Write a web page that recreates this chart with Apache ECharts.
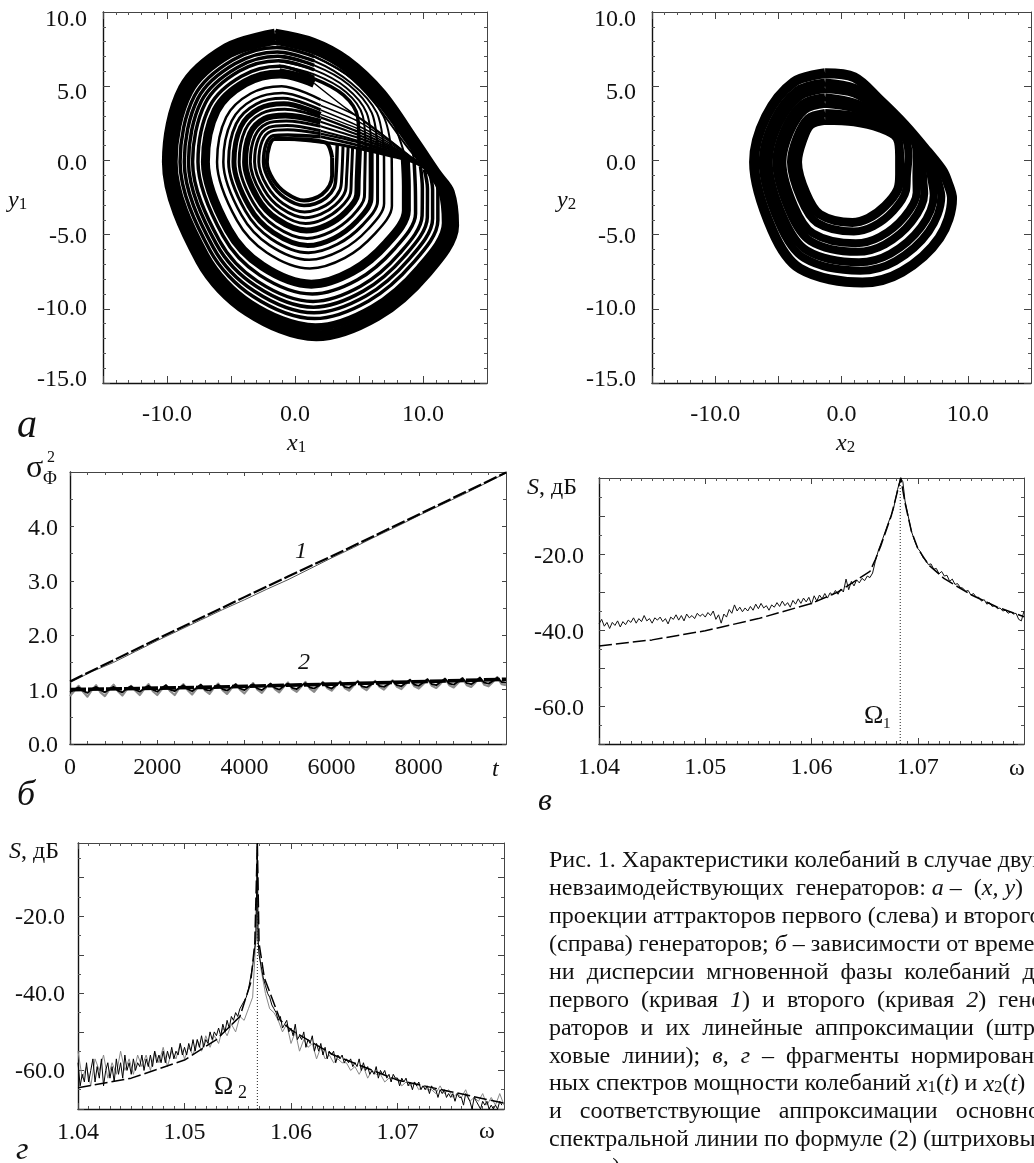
<!DOCTYPE html>
<html><head><meta charset="utf-8">
<script src="https://cdn.jsdelivr.net/npm/echarts@6/dist/echarts.min.js"></script>
<style>html,body{margin:0;padding:0;background:#fff;overflow:hidden}#c{width:1034px;height:1163px}</style>
</head><body><div id="c"></div>
<script>
// ---- panel a, first oscillator: ring paths
const a1Rings = [
[[2.9,.2],[2.9,-1],[2.7,-1.7],[2.1,-2.3],[1.4,-2.6],[.7,-2.7],[-.7,-2.2],[-1.7,-1.3],[-2.2,-.1],[-2,1],[-1.6,1.45],[-.5,1.45],[2.4,1.2],[2.9,.2]],
[[3.3,1.05],[3.2,-1.06],[3.06,-1.84],[2.43,-2.53],[1.57,-2.92],[.7,-3.04],[-.81,-2.52],[-1.9,-1.49],[-2.46,-.1],[-2.26,1.1],[-1.7,1.67],[-.56,1.72],[2,1.6]],
[[3.75,.95],[3.65,-1.11],[3.52,-1.97],[2.82,-2.78],[1.8,-3.29],[.75,-3.48],[-.95,-2.9],[-2.17,-1.75],[-2.83,-.1],[-2.57,1.29],[-1.88,1.96],[-.6,2.06],[2,1.8]],
[[4.15,.9],[4.03,-1.16],[3.93,-2.08],[3.16,-3],[2.02,-3.62],[.79,-3.86],[-1.08,-3.23],[-2.41,-1.98],[-3.16,-.1],[-2.86,1.45],[-2.04,2.22],[-.65,2.36],[2,2]],
[[4.5,.85],[4.4,-1.21],[4.34,-2.19],[3.5,-3.22],[2.23,-3.95],[.83,-4.25],[-1.2,-3.57],[-2.65,-2.22],[-3.49,-.1],[-3.14,1.62],[-2.2,2.48],[-.69,2.65],[2,2.3]],
[[5,.8],[4.9,-1.27],[4.86,-2.33],[3.94,-3.5],[2.49,-4.37],[.89,-4.73],[-1.36,-3.99],[-2.95,-2.51],[-3.9,-.1],[-3.5,1.82],[-2.4,2.8],[-.75,3.03],[2,2.6]],
[[5.5,.8],[5.45,-1.34],[5.42,-2.48],[4.41,-3.8],[2.78,-4.82],[.94,-5.26],[-1.53,-4.45],[-3.28,-2.82],[-4.36,-.1],[-3.89,2.05],[-2.62,3.16],[-.81,3.44],[2,2.9]],
[[5.95,.7],[5.95,-1.4],[5.93,-2.62],[4.84,-4.08],[3.05,-5.24],[1,-5.74],[-1.69,-4.87],[-3.58,-3.11],[-4.77,-.1],[-4.24,2.25],[-2.82,3.48],[-.86,3.81],[2,3.1]],
[[6.45,.6],[6.45,-1.46],[6.45,-2.76],[5.27,-4.36],[3.31,-5.65],[1.05,-6.22],[-1.85,-5.29],[-3.88,-3.4],[-5.19,-.1],[-4.6,2.46],[-3.02,3.8],[-.92,4.18],[2,3.4]],
[[6.95,.6],[6.96,-1.52],[6.96,-2.9],[5.7,-4.64],[3.58,-6.07],[1.1,-6.7],[-2,-5.71],[-4.18,-3.69],[-5.6,-.1],[-4.95,2.66],[-3.22,4.12],[-.97,4.55],[2,3.7]],
[[7.55,.5],[7.57,-1.59],[7.57,-3.07],[6.21,-4.97],[3.9,-6.57],[1.16,-7.28],[-2.19,-6.22],[-4.54,-4.04],[-6.09,-.1],[-5.38,2.91],[-3.46,4.51],[-1.04,5],[2,4.1]],
[[8.6,.3],[8.7,-1.72],[8.7,-3.38],[7.16,-5.58],[4.48,-7.48],[1.28,-8.34],[-2.54,-7.14],[-5.2,-4.68],[-7,-.1],[-6.16,3.36],[-3.9,5.22],[-1.16,5.82],[1.5,5.2]],
[[9.3,0],[9.4,-1.8],[9.42,-3.58],[7.76,-5.97],[4.85,-8.06],[1.35,-9],[-2.76,-7.73],[-5.62,-5.09],[-7.58,-.1],[-6.66,3.65],[-4.18,5.67],[-1.24,6.34],[1.5,5.6]],
[[9.8,-.4],[9.95,-1.86],[9.93,-3.72],[8.19,-6.25],[5.12,-8.48],[1.41,-9.5],[-2.92,-8.15],[-5.92,-5.38],[-8,-.1],[-7.01,3.85],[-4.38,6],[-1.29,6.71],[1.5,6.1]],
[[10.1,-.6],[10.35,-1.91],[10.34,-3.83],[8.54,-6.47],[5.33,-8.81],[1.45,-9.89],[-3.04,-8.48],[-6.16,-5.61],[-8.32,-.1],[-7.3,4.02],[-4.54,6.25],[-1.34,7.01],[1.5,6.4]],
[[10.5,-.8],[10.75,-1.96],[10.75,-3.94],[8.88,-6.69],[5.54,-9.14],[1.49,-10.27],[-3.17,-8.82],[-6.4,-5.84],[-8.65,-.1],[-7.58,4.18],[-4.7,6.51],[-1.38,7.31],[1.5,6.7]],
[[10.9,-1],[11.16,-2.01],[11.16,-4.05],[9.22,-6.91],[5.75,-9.47],[1.53,-10.66],[-3.3,-9.16],[-6.64,-6.07],[-8.98,-.1],[-7.86,4.34],[-4.86,6.77],[-1.42,7.61],[1.5,7]],
[[-1.49,8.06],[1.5,7.4],[4,6.2],[6.5,4.1],[9,1.2],[10.7,-.9],[11.5,-2.08],[11.78,-4.22],[9.74,-7.25],[6.07,-9.97],[1.6,-11.24],[-3.49,-9.66],[-7,-6.42],[-9.48,-.1],[-8.29,4.59],[-5.1,7.16],[-1.49,8.06]],
[[-1.56,8.5],[1.4,7.9],[4,6.7],[6.7,4.5],[9.3,1.3],[11.1,-1],[12.05,-2.15],[12.39,-4.39],[10.26,-7.58],[6.39,-10.47],[1.66,-11.82],[-3.67,-10.16],[-7.36,-6.77],[-9.97,-.1],[-8.72,4.84],[-5.34,7.54],[-1.56,8.5]]
];
const a1Fan = [
[[-.5,1.45],[2.4,1.2],[5,.8],[7.5,.3],[9.5,-.2],[11,-1]],
[[2,1.6],[5,1],[7.5,.4],[9.5,-.1],[10.5,-.6]],
[[2,1.8],[5,1.2],[7.5,.5],[9.5,-.1]],
[[2,2],[5,1.3],[7.5,.6],[9.5,-.1]],
[[2,2.3],[5,1.5],[7.5,.7],[9.5,0]],
[[2,2.6],[5,1.7],[7.5,.8],[9.5,0]],
[[2,2.9],[5,1.9],[7.5,.9],[9.5,-.1]],
[[2,3.1],[5,2.1],[7.5,1],[9.6,-.2]],
[[2,3.4],[5,2.3],[7.5,1.1],[9.7,-.2]],
[[2,3.7],[5,2.6],[7.5,1.2],[9.8,-.3]],
[[2,4.1],[5,2.9],[7.5,1.3],[10,-.4]],
[[1.5,5.2],[4,3.5],[7,1.6],[9.5,-.1]]
];
const a1Fold = [
[[-1.2,6.1],[1.5,5.5],[3.8,4.4],[4.9,2.9],[5,.8]],
[[-1.25,6.4],[1.5,5.8],[4,4.6],[5.3,3],[5.5,.8]],
[[-1.3,6.7],[1.5,6.1],[4,4.9],[5.6,3.2],[5.95,.7]],
[[-1.35,7],[1.5,6.4],[4.2,5.1],[6,3.2],[6.45,.6]],
[[-1.4,7.3],[1.5,6.7],[4.4,5.2],[6.4,3.2],[6.95,.6]],
[[-1.45,7.7],[1.5,7],[4.6,5.4],[6.9,3],[7.55,.5]],
[[-1.55,8.4],[1.5,7.8],[4.5,6.2],[7.3,3.2],[8.6,.3]],
[[-1.6,8.7],[1.4,8.1],[4,6.9],[6.8,4.4],[8.7,2],[9.3,0]],
[[1.5,7],[4,5.8],[6.2,3.9],[8.6,1.1],[10.3,-.7]]
];
// ---- panel a, second oscillator
const a2Rings = [
[[-1.3,2.71],[1,2.6],[3,2.2],[4.4,1.5],[4.6,.3],[4.6,-.94],[4.45,-1.95],[3.45,-3.07],[2.12,-3.9],[.86,-4.18],[-1.7,-3.65],[-2.82,-2.2],[-3.48,-.1],[-3.1,1.3],[-2.46,2.39],[-1.3,2.71]],
[[-1.3,3.19],[1,3],[3,2.5],[5,1.5],[5.3,.3],[5.18,-1.02],[5.1,-2.04],[4.1,-3.4],[2.52,-4.44],[.98,-4.79],[-1.94,-4.2],[-3.22,-2.58],[-4,-.1],[-3.54,1.54],[-2.66,2.82],[-1.3,3.19]],
[[-1.3,3.81],[1,3.5],[3,2.8],[5,1.9],[5.9,.9],[5.95,0],[5.93,-1.12],[5.95,-2.16],[4.95,-3.83],[3.05,-5.15],[1.13,-5.59],[-2.25,-4.92],[-3.75,-3.07],[-4.68,-.1],[-4.1,1.87],[-2.92,3.39],[-1.3,3.81]],
[[-1.3,4.25],[1,3.9],[3,3.1],[5,2],[6.3,.9],[6.4,0],[6.46,-1.19],[6.55,-2.24],[5.55,-4.13],[3.42,-5.66],[1.24,-6.16],[-2.47,-5.43],[-4.12,-3.42],[-5.16,-.1],[-4.5,2.11],[-3.11,3.79],[-1.3,4.25]],
[[-1.3,4.81],[1,4.5],[3,3.4],[4.8,2.1],[6.3,.8],[6.9,-.4],[7.12,-1.28],[7.3,-2.35],[6.3,-4.5],[3.88,-6.29],[1.38,-6.86],[-2.74,-6.07],[-4.58,-3.86],[-5.76,-.1],[-5,2.4],[-3.34,4.29],[-1.3,4.81]],
[[-1.3,5.25],[1,4.9],[3,3.7],[5,2.1],[6.5,.7],[7.4,-.5],[7.64,-1.36],[7.9,-2.43],[6.9,-4.8],[4.26,-6.79],[1.48,-7.43],[-2.96,-6.58],[-4.96,-4.2],[-6.24,-.1],[-5.4,2.63],[-3.53,4.7],[-1.3,5.25]],
[[-1.3,5.87],[1,5.6],[3,4.1],[5,2.4],[6.8,.6],[8,-.7],[8.39,-1.46],[8.75,-2.55],[7.75,-5.23],[4.78,-7.51],[1.64,-8.23],[-3.27,-7.3],[-5.48,-4.7],[-6.92,-.1],[-5.97,2.96],[-3.79,5.27],[-1.3,5.87]]
];
// ---- panel b
const phiLine1 = [[0,1.13],[500,1.33],[1000,1.5],[1500,1.7],[2000,1.9],[2500,2.09],[3000,2.28],[3500,2.47],[4000,2.65],[4500,2.84],[5000,3.02],[5500,3.22],[6000,3.42],[6500,3.61],[7000,3.81],[7500,4],[8000,4.2],[8500,4.39],[9000,4.58],[9500,4.78],[10000,4.98]];
const phiFit1 = [[0,1.15],[2000,1.93],[4000,2.7],[5000,3.08],[6000,3.45],[8000,4.22],[10000,4.99]];
const phiStep = 100;
const phiGray2 = [.88,.98,1.07,.96,.87,.99,1.08,.95,.88,1,1.09,.97,.89,1,1.07,.98,.9,1.01,1.1,.97,.9,1,1.08,.97,.9,1.02,1.1,.99,.91,1.01,1.09,.98,.92,1.03,1.11,.99,.92,1.02,1.1,1,.93,1.03,1.12,1,.94,1.04,1.11,1.01,.95,1.05,1.13,1.01,.96,1.05,1.14,1.02,.96,1.06,1.14,1.03,.98,1.07,1.15,1.03,.98,1.07,1.16,1.04,.99,1.08,1.16,1.05,1,1.09,1.17,1.05,1.01,1.1,1.18,1.06,1.02,1.1,1.19,1.07,1.03,1.11,1.2,1.08,1.04,1.12,1.21,1.08,1.05,1.13,1.22,1.09,1.06,1.14,1.23,1.1,1.08];
const phiBlack2 = [.95,1,1.04,.98,.94,1.01,1.05,.99,.95,1,1.05,.98,.95,1.02,1.06,1,.96,1.02,1.07,1,.96,1.03,1.08,1,.97,1.03,1.08,1.01,.97,1.03,1.09,1,.98,1.04,1.09,1.01,.98,1.04,1.1,1.02,.99,1.05,1.1,1.02,.99,1.05,1.11,1.03,1,1.06,1.11,1.03,1.01,1.07,1.12,1.04,1.02,1.07,1.13,1.05,1.02,1.08,1.14,1.05,1.03,1.09,1.15,1.06,1.04,1.09,1.15,1.07,1.05,1.1,1.16,1.08,1.06,1.12,1.18,1.09,1.07,1.13,1.19,1.1,1.08,1.14,1.2,1.11,1.09,1.15,1.21,1.12,1.1,1.15,1.22,1.13,1.11,1.16,1.22,1.14,1.13];
const phiFit2 = [[0,1],[3000,1.04],[6000,1.1],[10000,1.19]];
// ---- panel v
const specStep = .00025;
const spec1Left = [-38.4,-37.2,-39,-38,-39.6,-38,-38.8,-37.6,-39.2,-37.8,-38.6,-37.4,-38,-36.8,-38.2,-37,-37.8,-36.2,-37.6,-37,-38.2,-36.8,-37.4,-36.6,-37.8,-37,-38.4,-36.6,-37.2,-36,-37.4,-36.2,-37.6,-35.8,-36.8,-36.2,-37,-35.6,-36.4,-35.8,-36.6,-35.4,-36.2,-35,-37.2,-36,-38.2,-35.8,-36.6,-34.6,-35.6,-33.4,-35,-34,-35.2,-34.2,-35,-33.8,-34.8,-33.2,-34.4,-33,-34.2,-33.6,-34.8,-33.4,-34,-32.8,-33.8,-32.4,-33.6,-32.8,-34,-32.2,-33.2,-31.8,-33,-31.6,-32.6,-31.4,-33.2,-31,-32.4,-30.8,-31.8,-30.4,-31.6,-30.2,-30.8,-29.6,-30.6,-29.2,-30,-26.6,-29.4,-27.2,-28.4,-26.8,-27.6,-26.4,-27,-25.8,-26.2,-25];
const spec1Peak = [[1.066,-22],[1.0663,-19],[1.0667,-16],[1.0672,-12],[1.0677,-8.3],[1.0681,-3],[1.0684,0],[1.0686,-1],[1.0688,-6],[1.0691,-10],[1.0694,-14],[1.0697,-16.5]];
const spec1Right = [-18.5,-19.4,-21,-21.6,-22.8,-22.6,-24,-23.8,-25.2,-24.6,-25.8,-25.6,-27.2,-26.6,-28,-27.8,-28.8,-29,-29.8,-29.6,-30.8,-30.4,-31.4,-31.4,-32.4,-32,-33.2,-32.8,-33.8,-33.6,-34.4,-34.2,-35,-34.8,-35.6,-35.2,-35.8,-35.6,-37.2,-37.6,-35];
const fit1 = [[1.04,-44.2],[1.045,-42.6],[1.05,-40.2],[1.055,-37],[1.06,-33],[1.0625,-30],[1.0655,-24.6],[1.066,-21.5],[1.0665,-18],[1.067,-14],[1.0675,-10],[1.068,-4.5],[1.0684,0],[1.0688,-6.5],[1.0694,-14],[1.07,-18.5],[1.071,-22.8],[1.0725,-26.5],[1.075,-30.7],[1.0775,-34],[1.08,-36.5]];
const omega1 = [[1.06835,-70],[1.06835,0]];
// ---- panel g
const specStep2 = .0002;
const spec2BlackLeft = [-58,-64,-61,-63,-58,-63,-60,-57,-63,-59,-62,-57,-64,-60,-58,-62,-59,-63,-57,-61,-58,-62,-56,-60,-58,-61,-57,-60,-58,-59,-56,-60,-57,-59,-56,-59,-55,-58,-56,-58,-55,-58,-55,-57,-54,-57,-55,-56,-53,-56,-54,-56,-53,-55,-52,-55,-52,-54,-51,-54,-52,-53,-50,-52,-50,-51,-49,-51,-48,-50,-47,-49,-46,-47,-45,-46,-44,-43,-42,-41,-39,-36,-33,-28];
const spec2GrayLeft = [-55,-62,-59,-64,-57,-60,-56,-62,-58,-61,-55,-60,-57,-61,-56,-59,-56,-60,-55,-58,-54,-59,-55,-57,-53,-57,-54,-56,-52,-55,-51,-54,-51,-53,-49,-51,-48,-50,-46,-47,-44,-41];
const spec2BlackRight = [-30,-33,-36,-38,-40,-41,-43,-44,-45,-47,-46,-49,-48,-47,-50,-49,-51,-48,-52,-51,-52,-50,-54,-52,-53,-51,-55,-53,-55,-53,-56,-54,-57,-55,-56,-55,-58,-56,-57,-56,-58,-57,-58,-57,-59,-58,-59,-57,-60,-58,-60,-59,-61,-60,-61,-59,-62,-60,-61,-60,-62,-61,-63,-61,-62,-62,-64,-62,-63,-62,-64,-63,-65,-63,-64,-63,-65,-64,-65,-64,-66,-64,-65,-65,-67,-65,-66,-65,-67,-66,-67,-66,-68,-66,-67,-67,-69,-66,-67,-68,-70,-67,-68,-69,-70,-68,-69,-68,-70,-69,-70,-69,-70,-68,-69];
const spec2GrayRight = [-34,-40,-44,-45,-47,-50,-48,-53,-50,-55,-52,-54,-53,-57,-54,-57,-56,-58,-57,-58,-58,-60,-59,-61,-59,-62,-60,-61,-61,-63,-62,-62,-62,-64,-63,-64,-63,-65,-64,-65,-65,-66,-64,-66,-65,-67,-66,-67,-65,-68,-67,-68,-66,-69,-67,-69,-66,-69];
const spec2Peak = [[1.0567,-26],[1.05684,-1],[1.05684,-1],[1.0569,-26]];
const fit2 = [[1.04,-64.5],[1.045,-62],[1.05,-57.3],[1.053,-52],[1.0552,-46],[1.0562,-37.4],[1.0566,-27],[1.05684,-1],[1.057,-27],[1.0575,-36],[1.059,-47],[1.06,-49.5],[1.064,-56],[1.07,-62.5],[1.075,-65.5],[1.08,-68.5]];
const omega2 = [[1.05684,-70],[1.05684,-1]];

// ---- texts
const captionLines = [
 'Рис. 1. Характеристики колебаний в случае двух',
 'невзаимодействующих  генераторов: {i|а} –  ({i|x, y})',
 'проекции аттракторов первого (слева) и второго',
 '(справа) генераторов; {i|б} – зависимости от време-',
 'ни  дисперсии  мгновенной  фазы  колебаний  для',
 'первого  (кривая  {i|1})  и  второго  (кривая  {i|2})  гене-',
 'раторов  и  их  линейные  аппроксимации  (штри-',
 'ховые  линии);  {i|в,}  {i|г}  –  фрагменты  нормирован-',
 'ных спектров мощности колебаний {i|x}{s|1}({i|t}) и {i|x}{s|2}({i|t})',
 'и   соответствующие   аппроксимации   основной',
 'спектральной линии по формуле (2) (штриховые',
 'линии).'
];
const fmt1 = v => v.toFixed(1);
const serif = '"Liberation Serif","Times New Roman",serif';
const mk = (top,bottom)=>({padding:[top,0,bottom,0],fontFamily:serif,fontSize:24,color:'#111'});
const shift = {t16:mk(16,0),t14:mk(14,0),t6:mk(6,0),t4:mk(4,0),t5:mk(5,0),t3:mk(3,0),b6:mk(0,6),z:mk(0,0)};

const grids = [
 {left:103,top:12,width:384,height:371},
 {left:652,top:12,width:384,height:371},
 {left:70,top:472,width:436,height:272},
 {left:599,top:478,width:425,height:266},
 {left:78,top:843,width:426,height:266}
];
function axes(dim, cfg){
  return [0,1].map(k=>({
    type:'value', gridIndex:cfg.g, min:cfg.min, max:cfg.max, interval:cfg.interval,
    position: dim==='x' ? (k?'top':'bottom') : (k?'right':'left'),
    splitLine:{show:false},
    axisLine:{show:true,onZero:false,lineStyle:{color:k?'#444':'#111',width:k?1:1.4}},
    axisTick:{show:true,inside:true,length:cfg.tick||7,lineStyle:{color:'#444',width:1}},
    minorTick:{show:true,splitNumber:cfg.minor,length:3,lineStyle:{color:'#555',width:1}},
    axisLabel:{show:!k,margin:cfg.margin,color:'#111',fontFamily:serif,fontSize:24,formatter:cfg.fmt,rich:shift}
  }));
}
const xLbl10 = v => Math.abs(v)%10===0 && Math.abs(v)<15 ? fmt1(v) : '';
const xAxes = [].concat(
 axes('x',{g:0,min:-15,max:15,interval:5,minor:5,margin:20,fmt:xLbl10}),
 axes('x',{g:1,min:-15,max:15,interval:5,minor:5,margin:20,fmt:xLbl10}),
 axes('x',{g:2,min:0,max:10000,interval:2000,minor:5,margin:12,tick:4,fmt:v=>v<10000?String(v):''}),
 axes('x',{g:3,min:1.04,max:1.08,interval:.01,minor:10,margin:12,tick:6,fmt:v=>v<1.075?v.toFixed(2):''}),
 axes('x',{g:4,min:1.04,max:1.08,interval:.01,minor:10,margin:12,tick:6,fmt:v=>v<1.075?v.toFixed(2):''})
);
const attrKey = {'10':'t16','5':'t14','0':'t6','-5':'t4','-10':'z','-15':'b6'};
const attrLbl = v => '{'+attrKey[String(v)]+'|'+fmt1(v)+'}';
const dbLbl = key => v => (v===-20||v===-40||v===-60) ? '{'+key+'|'+fmt1(v)+'}' : '';
const yAxes = [].concat(
 axes('y',{g:0,min:-15,max:10,interval:5,minor:5,margin:16,fmt:attrLbl}),
 axes('y',{g:1,min:-15,max:10,interval:5,minor:5,margin:16,fmt:attrLbl}),
 axes('y',{g:2,min:0,max:5,interval:1,minor:2,margin:12,tick:4,fmt:v=>v<5?'{t4|'+fmt1(v)+'}':''}),
 axes('y',{g:3,min:-70,max:0,interval:10,minor:2,margin:15,tick:6,fmt:dbLbl('t5')}),
 axes('y',{g:4,min:-70,max:-1,interval:10,minor:2,margin:13,tick:6,fmt:dbLbl('t3')})
);
const series = [];
function line(g,data,width,opt){
  opt=opt||{};
  series.push({type:'line',xAxisIndex:2*g,yAxisIndex:2*g,data:data,showSymbol:false,symbol:'none',silent:true,
    animation:false,smooth:opt.smooth||false,
    lineStyle:{color:opt.color||'#000',width:width,type:opt.dash||'solid',cap:'butt',join:'round'}});
}
const spaced=(x0,step,vals)=>vals.map((v,i)=>[x0+i*step,v]);

const a1Widths=[4,3.5,3,3,3,6,3,5,3,2.5,2.5,9,3.5,3.5,3.5,3.5,3.5,8,11];
a1Rings.forEach((r,i)=>line(0,r,a1Widths[i],{smooth:.33}));
a1Fan.forEach((r,i)=>line(0,r,i<2?3:(i<7?2.2:1.5),{smooth:.3}));
a1Fold.forEach((r,i)=>line(0,r,i===0?3.5:2,{smooth:.33}));
const a2Widths=[9,8,8,8,8,8,10];
a2Rings.forEach((r,i)=>line(1,r,a2Widths[i],{smooth:.33}));

line(2,phiLine1,1,{color:'#555'});
line(2,phiFit1,2.2,{dash:[14,3]});
line(2,spaced(0,phiStep,phiGray2),2.2,{color:'#8a8a8a'});
line(2,spaced(0,phiStep,phiBlack2),1.8,{color:'#000'});
line(2,phiFit2,3.6,{dash:[16,2]});

line(3,omega1,1,{dash:[1,2],color:'#222'});
line(3,spaced(1.04,specStep,spec1Left).concat(spec1Peak,spaced(1.07,specStep,spec1Right)),1,{color:'#111'});
line(3,fit1,1.5,{dash:[13,4]});

line(4,omega2,1,{dash:[1,2],color:'#222'});
line(4,spaced(1.04,2*specStep2,spec2GrayLeft).concat(spec2Peak,spaced(1.0572,2*specStep2,spec2GrayRight)),1,{color:'#888'});
line(4,spaced(1.04,specStep2,spec2BlackLeft).concat(spec2Peak,spaced(1.057,specStep2,spec2BlackRight)),1,{color:'#000'});
line(4,fit2,1.5,{dash:[13,4]});

const rich={i:{fontStyle:'italic',fontFamily:serif,fontSize:24,fill:'#111'},
  s:{fontFamily:serif,fontSize:17,fill:'#111',verticalAlign:'bottom'},
  n:{fontFamily:serif,fontSize:24,fill:'#111'}};
function txt(x,y,text,size,style,r){
  return {type:'text',x:x,y:y,silent:true,style:{text:text,fontFamily:serif,fontSize:size,fontStyle:style||'normal',fill:'#111',align:'left',verticalAlign:'middle',rich:r||rich}};
}
const graphic=[
 txt(8,201,'{i|y}{s|1}',24), txt(287,444,'{i|x}{s|1}',24),
 txt(557,201,'{i|y}{s|2}',24), txt(836,444,'{i|x}{s|2}',24),
 txt(17,426,'а',40,'italic'), txt(17,796,'б',36,'italic'), txt(538,802,'в',32,'italic'), txt(16,1151,'г',32,'italic'),
 txt(26,469,'σ',32), txt(43,479,'Φ',19), txt(47,458,'2',16),
 txt(492,770,'t',24,'italic'),
 txt(295,552,'1',24,'italic'), txt(298,663,'2',24,'italic'),
 txt(527,488,'{i|S},{n| дБ}',24), txt(9,852,'{i|S},{n| дБ}',24),
 txt(1009,769,'ω',24), txt(479,1132,'ω',24),
 txt(864,716,'Ω',26), txt(883,724,'1',15),
 txt(214,1087,'Ω',26), txt(238,1093,'2',18)
];
captionLines.forEach((t,i)=>graphic.push(txt(549,861+i*27.9,t,24)));

const chart=echarts.init(document.getElementById('c'),null,{renderer:'canvas',width:1034,height:1163});
chart.setOption({animation:false,backgroundColor:'#fff',grid:grids,xAxis:xAxes,yAxis:yAxes,series:series,graphic:graphic});
</script></body></html>
